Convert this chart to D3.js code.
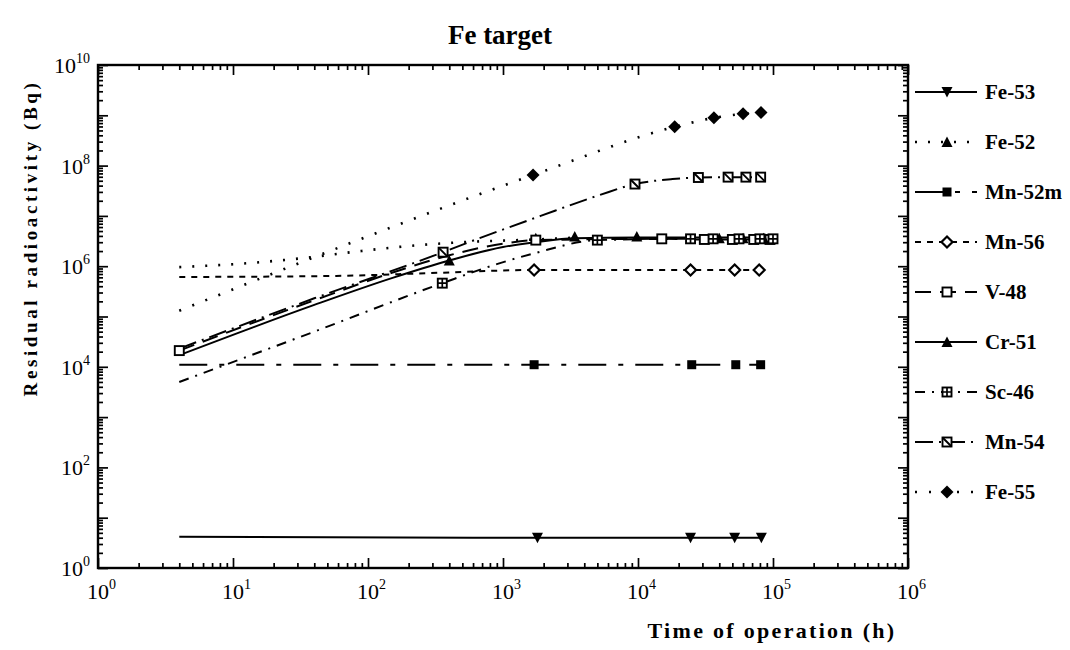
<!DOCTYPE html>
<html>
<head>
<meta charset="utf-8">
<script src="https://cdn.jsdelivr.net/npm/d3@7"></script>
<style>
  body { margin: 0; background: #fff; }
  text { font-family: "Liberation Serif", "DejaVu Serif", serif; font-weight: bold; fill: #000; }
</style>
</head>
<body>
<svg id="chart" width="1070" height="650"></svg>
<script>
// time of operation (h) and residual radioactivity (Bq)
var fe53Line  = [[4, 4.2], [1800, 4.0], [24500, 4.0], [52000, 4.0], [82000, 4.0]];
var fe53Marks = [[1800, 4.0], [24500, 4.0], [52000, 4.0], [82000, 4.0]];

var fe52Line  = [[4, 9.6e5], [13, 1.15e6], [37, 1.5e6], [75, 1.9e6], [230, 2.6e6], [500, 3.0e6], [1750, 3.4e6], [3400, 3.7e6]];
var fe52Marks = [[1750, 3.6e6], [3400, 3.9e6]];

var mn52mLine  = [[4, 1.1e4], [1700, 1.1e4], [25000, 1.1e4], [53000, 1.1e4], [81000, 1.1e4]];
var mn52mMarks = [[1700, 1.1e4], [25000, 1.1e4], [53000, 1.1e4], [81000, 1.1e4]];

var mn56Line  = [[4, 6.1e5], [58, 6.4e5], [290, 7.3e5], [1700, 8.4e5], [24500, 8.4e5], [52000, 8.4e5], [79000, 8.4e5]];
var mn56Marks = [[1700, 8.4e5], [24500, 8.4e5], [52000, 8.4e5], [79000, 8.4e5]];

var v48Line  = [[4, 2.1e4], [40, 2.1e5], [150, 7.4e5], [400, 1.65e6], [1000, 2.8e6], [1750, 3.3e6], [15000, 3.5e6], [31000, 3.4e6], [50000, 3.4e6], [72000, 3.4e6], [95000, 3.4e6]];
var v48Marks = [[4, 2.1e4], [1750, 3.3e6], [15000, 3.5e6], [31000, 3.4e6], [50000, 3.4e6], [72000, 3.4e6], [95000, 3.4e6]];

var cr51Line  = [[4, 1.7e4], [40, 1.7e5], [150, 5.8e5], [400, 1.3e6], [1000, 2.4e6], [1750, 3e6], [3400, 3.6e6], [9800, 3.7e6], [40000, 3.7e6], [60000, 3.7e6], [85000, 3.7e6]];
var cr51Marks = [[400, 1.3e6], [9800, 3.9e6], [40000, 3.6e6], [60000, 3.6e6], [85000, 3.6e6]];

var sc46Line  = [[4, 5e3], [40, 5e4], [355, 4.6e5], [900, 1.1e6], [1700, 1.8e6], [5000, 3.3e6], [24500, 3.5e6], [36000, 3.5e6], [56000, 3.5e6], [80000, 3.5e6], [100000, 3.5e6]];
var sc46Marks = [[355, 4.6e5], [5000, 3.3e6], [24500, 3.5e6], [36000, 3.5e6], [56000, 3.5e6], [80000, 3.5e6], [100000, 3.5e6]];

var mn54Line  = [[4, 2.3e4], [40, 2.3e5], [360, 1.9e6], [670, 3.6e6], [1900, 1e7], [5200, 2.6e7], [9500, 4.3e7], [18000, 5.4e7], [28000, 5.8e7], [46500, 5.9e7], [63000, 5.9e7], [81000, 5.9e7]];
var mn54Marks = [[360, 1.9e6], [9500, 4.3e7], [28000, 5.8e7], [46500, 5.9e7], [63000, 5.9e7], [81000, 5.9e7]];

var fe55Line  = [[4, 1.3e5], [1670, 6.5e7], [18700, 5.9e8], [36500, 8.9e8], [60000, 1.07e9], [81500, 1.14e9]];
var fe55Marks = [[1670, 6.5e7], [18700, 5.9e8], [36500, 8.9e8], [60000, 1.07e9], [81500, 1.14e9]];

var xExponents = [0, 1, 2, 3, 4, 5, 6];
var yExponents = [0, 2, 4, 6, 8, 10];

var series = [
  {name: "Fe-53",  line: fe53Line,  marks: fe53Marks,  dash: null,          sym: "triDown"},
  {name: "Fe-52",  line: fe52Line,  marks: fe52Marks,  dash: "2,11",        sym: "triUp"},
  {name: "Mn-52m", line: mn52mLine, marks: mn52mMarks, dash: "28,12,5,12",  sym: "squareFill"},
  {name: "Mn-56",  line: mn56Line,  marks: mn56Marks,  dash: "6,6",         sym: "diamondOpen"},
  {name: "V-48",   line: v48Line,   marks: v48Marks,   dash: "16,9",        sym: "squareOpen"},
  {name: "Cr-51",  line: cr51Line,  marks: cr51Marks,  dash: null,          sym: "triUp"},
  {name: "Sc-46",  line: sc46Line,  marks: sc46Marks,  dash: "10,7,2,7",    sym: "squareCross"},
  {name: "Mn-54",  line: mn54Line,  marks: mn54Marks,  dash: "18,6,2,6",    sym: "squareDiag"},
  {name: "Fe-55",  line: fe55Line,  marks: fe55Marks,  dash: "2,12",        sym: "diamondFill"}
];

var svg = d3.select("#chart");
var pLeft = 98, pRight = 908, pTop = 65, pBottom = 568;

var x = d3.scaleLog().domain([1, 1e6]).range([pLeft, pRight]);
var y = d3.scaleLog().domain([1, 1e10]).range([pBottom, pTop]);

// minor ticks 2..9 of every decade
function minors(lo, hi) {
  var out = [];
  for (var k = lo; k < hi; k++)
    for (var m = 2; m <= 9; m++) out.push(m * Math.pow(10, k));
  return out;
}
var xMaj = d3.range(0, 7).map(function (k) { return Math.pow(10, k); });
var yMaj = d3.range(0, 11).map(function (k) { return Math.pow(10, k); });

function tickAxis(axis, scale, values, size, tr) {
  svg.append("g")
    .attr("transform", tr)
    .call(axis(scale).tickValues(values).tickSize(size).tickFormat(""))
    .call(function (g) { g.select(".domain").remove(); })
    .selectAll("line").attr("stroke", "#000").attr("stroke-width", 1.7);
}
tickAxis(d3.axisBottom, x, minors(0, 6), -5, "translate(0," + pBottom + ")");
tickAxis(d3.axisBottom, x, xMaj, -10, "translate(0," + pBottom + ")");
tickAxis(d3.axisTop, x, minors(0, 6), -5, "translate(0," + pTop + ")");
tickAxis(d3.axisTop, x, xMaj, -10, "translate(0," + pTop + ")");
tickAxis(d3.axisLeft, y, minors(0, 10), -5, "translate(" + pLeft + ",0)");
tickAxis(d3.axisLeft, y, yMaj, -10, "translate(" + pLeft + ",0)");
tickAxis(d3.axisRight, y, minors(0, 10), -5, "translate(" + pRight + ",0)");
tickAxis(d3.axisRight, y, yMaj, -10, "translate(" + pRight + ",0)");

svg.append("rect")
  .attr("x", pLeft).attr("y", pTop)
  .attr("width", pRight - pLeft).attr("height", pBottom - pTop)
  .attr("fill", "none").attr("stroke", "#000").attr("stroke-width", 2.4);

// tick labels with superscript exponents
xExponents.forEach(function (e) {
  var t = svg.append("text")
    .attr("x", x(Math.pow(10, e)) - 11).attr("y", 599)
    .style("font-size", "22px").style("font-weight", "normal");
  t.append("tspan").text("10");
  t.append("tspan").attr("dy", -10).style("font-size", "14px").text(e);
});
yExponents.forEach(function (e) {
  var t = svg.append("text")
    .attr("x", 90).attr("y", y(Math.pow(10, e)) + 8)
    .attr("text-anchor", "end")
    .style("font-size", "22px").style("font-weight", "normal");
  t.append("tspan").text("10");
  t.append("tspan").attr("dy", -10).style("font-size", "14px").text(e);
});

svg.append("text")
  .attr("x", 500).attr("y", 44)
  .attr("text-anchor", "middle")
  .style("font-size", "27px")
  .text("Fe target");

svg.append("text")
  .attr("x", 772).attr("y", 638)
  .attr("text-anchor", "middle")
  .style("font-size", "22px").style("letter-spacing", "2.3px")
  .text("Time of operation (h)");

svg.append("text")
  .attr("transform", "translate(37,238) rotate(-90)")
  .attr("text-anchor", "middle")
  .style("font-size", "19px").style("letter-spacing", "3.6px")
  .text("Residual radioactivity (Bq)");

// marker glyphs
function drawSymbol(g, sym, cx, cy) {
  var s = 4.5;
  if (sym === "triDown") {
    g.append("path").attr("d", "M" + (cx - 5.5) + "," + (cy - 5) + "L" + (cx + 5.5) + "," + (cy - 5) + "L" + cx + "," + (cy + 5.5) + "Z").attr("fill", "#000");
  } else if (sym === "triUp") {
    g.append("path").attr("d", "M" + (cx - 5.5) + "," + (cy + 5) + "L" + (cx + 5.5) + "," + (cy + 5) + "L" + cx + "," + (cy - 5.5) + "Z").attr("fill", "#000");
  } else if (sym === "squareFill") {
    g.append("rect").attr("x", cx - s).attr("y", cy - s).attr("width", 2 * s).attr("height", 2 * s).attr("fill", "#000");
  } else if (sym === "diamondOpen") {
    g.append("path").attr("d", "M" + cx + "," + (cy - 5.5) + "L" + (cx + 5.5) + "," + cy + "L" + cx + "," + (cy + 5.5) + "L" + (cx - 5.5) + "," + cy + "Z")
      .attr("fill", "#fff").attr("stroke", "#000").attr("stroke-width", 2.2);
  } else if (sym === "diamondFill") {
    g.append("path").attr("d", "M" + cx + "," + (cy - 6.5) + "L" + (cx + 6.5) + "," + cy + "L" + cx + "," + (cy + 6.5) + "L" + (cx - 6.5) + "," + cy + "Z").attr("fill", "#000");
  } else {
    g.append("rect").attr("x", cx - s).attr("y", cy - s).attr("width", 2 * s).attr("height", 2 * s)
      .attr("fill", "#fff").attr("stroke", "#000").attr("stroke-width", 1.9);
    if (sym === "squareCross") {
      g.append("path").attr("d", "M" + (cx - s) + "," + cy + "H" + (cx + s) + "M" + cx + "," + (cy - s) + "V" + (cy + s))
        .attr("stroke", "#000").attr("stroke-width", 1.7);
    } else if (sym === "squareDiag") {
      g.append("path").attr("d", "M" + (cx - s) + "," + (cy - s) + "L" + (cx + s) + "," + (cy + s))
        .attr("stroke", "#000").attr("stroke-width", 1.9);
    }
  }
}

function strokeW(s) { return s.dash && s.dash.indexOf("2,1") === 0 ? 2.6 : 2.0; }

var line = d3.line()
  .x(function (d) { return x(d[0]); })
  .y(function (d) { return y(d[1]); })
  .curve(d3.curveMonotoneX);

var plot = svg.append("g");
series.forEach(function (s) {
  plot.append("path")
    .datum(s.line)
    .attr("d", line)
    .attr("fill", "none")
    .attr("stroke", "#000")
    .attr("stroke-width", strokeW(s))
    .attr("stroke-dasharray", s.dash);
});
series.forEach(function (s) {
  var g = plot.append("g");
  s.marks.forEach(function (d) { drawSymbol(g, s.sym, x(d[0]), y(d[1])); });
});

// legend
var legend = svg.append("g");
series.forEach(function (s, i) {
  var ly = 92 + i * 50;
  legend.append("line")
    .attr("x1", 915).attr("x2", 977).attr("y1", ly).attr("y2", ly)
    .attr("stroke", "#000")
    .attr("stroke-width", strokeW(s))
    .attr("stroke-dasharray", s.dash);
  drawSymbol(legend, s.sym, 947, ly);
  legend.append("text")
    .attr("x", 985).attr("y", ly + 7)
    .style("font-size", "21px")
    .text(s.name);
});
</script>
</body>
</html>
